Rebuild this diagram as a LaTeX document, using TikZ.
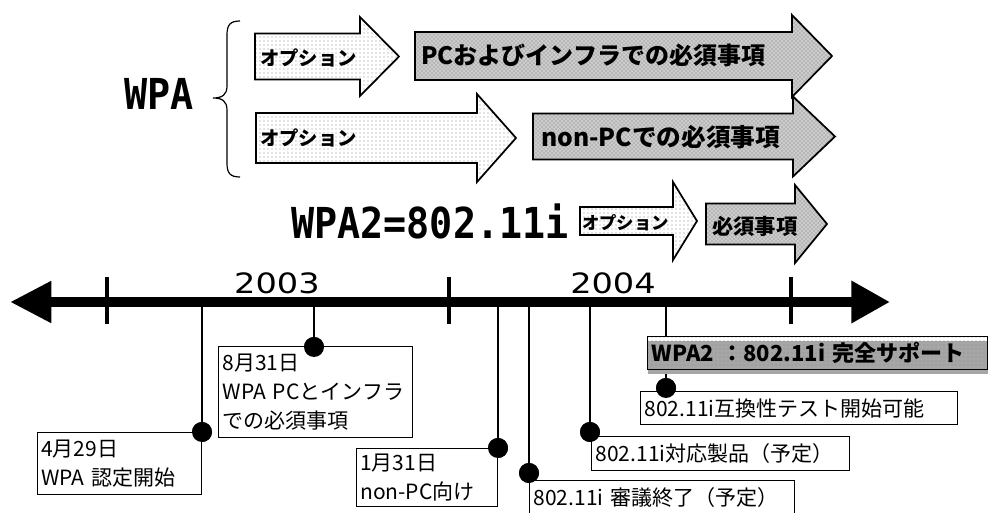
\documentclass[tikz,border=0pt]{standalone}
\usepackage{fontspec}
\usetikzlibrary{arrows.meta,patterns,shadows}

\newfontfamily\jp{Noto Sans CJK JP}
\newfontfamily\headfont[FakeStretch=0.9]{DejaVu Sans Mono}
\newfontfamily\yearfont[FakeStretch=1.2]{DejaVu Sans}

% block arrow: style, tail x, tip x, mid y, shaft half, head half, head length
\newcommand{\blockarrow}[7]{%
  \draw[#1] (#2,{#4-#5}) -- ({#3-#7},{#4-#5}) -- ({#3-#7},{#4-#6}) -- (#3,#4)
    -- ({#3-#7},{#4+#6}) -- ({#3-#7},{#4+#5}) -- (#2,{#4+#5}) -- cycle;}

\begin{document}
\begin{tikzpicture}[x=0.75pt, y=-0.75pt,
  optarrow/.style={draw, line width=1.3pt, preaction={fill=white}, pattern=dots, pattern color=black!45},
  mustarrow/.style={draw, line width=1.3pt, preaction={fill=black!20}, pattern=crosshatch dots, pattern color=black!55},
  arrowtext/.style={anchor=west, inner sep=0pt},
  event/.style={draw, line width=1pt, fill=white, align=left, inner xsep=3pt, inner ysep=0pt, anchor=north west,
    font=\jp\fontsize{15.75pt}{21.75pt}\selectfont},
  dot/.style={circle, fill=black, minimum size=15pt, inner sep=0pt},
  stem/.style={line width=1.1pt},
  yeartick/.style={line width=3pt}]
  \useasboundingbox (0,0) rectangle (989,513);

  % WPA and its two rows
  \node[anchor=base west, inner sep=0pt, font=\headfont\bfseries\fontsize{32pt}{33pt}\selectfont] (wpa) at (124,110) {WPA};
  \draw[line width=0.9pt] (240,21) .. controls (230,21) and (227,25) .. (227,35) -- (227,86)
    .. controls (227,95) and (222,98) .. (213,98) .. controls (222,98) and (227,101) .. (227,110)
    -- (227,163) .. controls (227,173) and (230,177) .. (240,177);

  \blockarrow{optarrow}{255}{399}{56.5}{23}{39.5}{39}
  \blockarrow{mustarrow}{415}{832}{56}{24}{41}{40}
  \blockarrow{optarrow}{256}{516}{138}{25}{44}{39}
  \blockarrow{mustarrow}{533}{835}{136.5}{23}{40}{42}
  \node[arrowtext, font=\jp\bfseries\fontsize{14.5pt}{16pt}\selectfont] (opt1) at (260,58) {オプション};
  \node[arrowtext, font=\jp\bfseries\fontsize{18pt}{19pt}\selectfont] (must1) at (421,55) {PCおよびインフラでの必須事項};
  \node[arrowtext, font=\jp\bfseries\fontsize{14.5pt}{16pt}\selectfont] (opt2) at (260,138) {オプション};
  \node[arrowtext, font=\jp\bfseries\fontsize{18.5pt}{19pt}\selectfont] (must2) at (541,137) {non-PCでの必須事項};

  % WPA2 row
  \node[anchor=base west, inner sep=0pt, font=\headfont\bfseries\fontsize{32pt}{33pt}\selectfont] (wpa2) at (291,239) {WPA2=802.11i};
  \blockarrow{optarrow}{580}{697}{221}{14}{39}{24}
  \blockarrow{mustarrow}{706}{827}{224}{20.5}{39}{32}
  \node[arrowtext, font=\jp\bfseries\fontsize{13pt}{14pt}\selectfont] (opt3) at (582,223) {オプション};
  \node[arrowtext, font=\jp\bfseries\fontsize{16pt}{17pt}\selectfont] (must3) at (712,226) {必須事項};

  % event points on the time axis
  \coordinate (t0429) at (202,302);
  \coordinate (t0831) at (314,302);
  \coordinate (t0131) at (498,302);
  \coordinate (trev) at (529,302);
  \coordinate (tprod) at (590,302);
  \coordinate (ttest) at (666,302);
  \node[dot] (p0429) at (202,432) {};
  \node[dot] (p0831) at (314,347) {};
  \node[dot] (p0131) at (498,448) {};
  \node[dot] (prev) at (529,473) {};
  \node[dot] (pprod) at (590,432) {};
  \node[dot] (ptest) at (666,388) {};
  \draw[stem] (t0429) -- (p0429);
  \draw[stem] (t0831) -- (p0831);
  \draw[stem] (t0131) -- (p0131);
  \draw[stem] (trev) -- (prev);
  \draw[stem] (tprod) -- (pprod);
  \draw[stem] (ttest) -- (ptest);

  % time axis
  \draw[line width=7.5pt, {Triangle[length=31pt,width=29.5pt]}-{Triangle[length=29pt,width=30pt]}] (10,302) -- (890,302);
  \draw[yeartick] (107,277) -- (107,324);
  \draw[yeartick] (449,277) -- (449,324);
  \draw[yeartick] (791,277) -- (791,324);
  \node[font=\yearfont\fontsize{21pt}{22pt}\selectfont, inner sep=0pt] (y2003) at (277,283) {2003};
  \node[font=\yearfont\fontsize{21pt}{22pt}\selectfont, inner sep=0pt] (y2004) at (613,283) {2004};

  % event boxes
  \node[event, text width=117pt, minimum height=46.5pt, anchor=north east] (b0429) at (p0429) {4月29日\\WPA 認定開始};
  \node[event, text width=139.5pt, minimum height=68.25pt] (b0831) at (218,346) {8月31日\\WPA PCとインフラ\\での必須事項};
  \node[event, text width=99.75pt, minimum height=43.5pt, anchor=north east] (b0131) at (p0131) {1月31日\\non-PC向け};
  \node[event, text width=192.75pt, minimum height=26pt] (brev) at (529,480) {802.11i 審議終了（予定）};
  \node[event, text width=187.5pt, minimum height=25.5pt] (bprod) at (591,436) {802.11i対応製品（予定）};
  \node[event, text width=231.75pt, minimum height=24.75pt] (btest) at (640,391) {802.11i互換性テスト開始可能};
  \node[event, text width=249pt, minimum height=24.75pt, preaction={fill=white}, pattern=dots, pattern color=black!45,
    general shadow={fill=black!35, shadow xshift=0pt, shadow yshift=-3pt},
    font=\jp\bfseries\fontsize{16.5pt}{18pt}\selectfont] (wpa2full) at (647,336) {WPA2 ：802.11i 完全サポート};

  % dots on top of the boxes
  \node[dot] at (p0429) {};
  \node[dot] at (p0831) {};
  \node[dot] at (p0131) {};
  \node[dot] at (prev) {};
  \node[dot] at (pprod) {};
  \node[dot] at (ptest) {};
\end{tikzpicture}
\end{document}
